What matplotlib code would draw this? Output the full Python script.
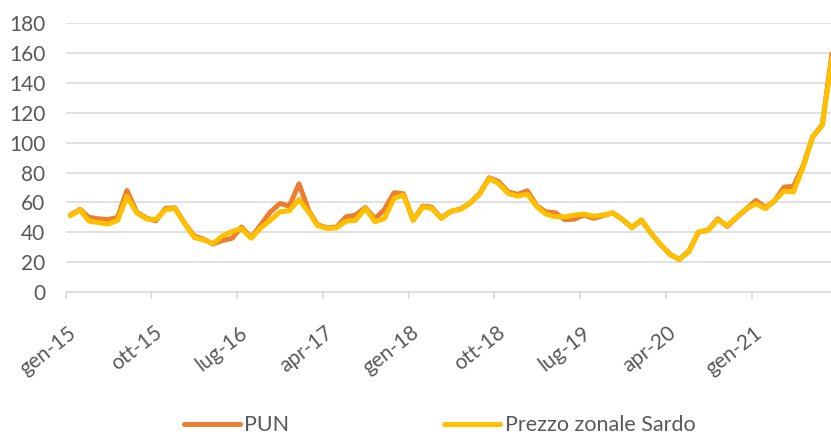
import matplotlib
matplotlib.use("Agg")
import matplotlib.pyplot as plt
import matplotlib.transforms as mtransforms
import numpy as np
import pandas as pd

plt.rcParams['font.family'] = ['Lato', 'DejaVu Sans']

# Monthly values, Jan 2015 - Sep 2021 (€/MWh)
months = pd.date_range('2015-01-01', periods=81, freq='MS') + pd.Timedelta(days=14)

pun = [51.5, 55.3, 50.0, 49.0, 48.5, 50.0, 68.0, 53.5, 49.5, 47.7, 56.0, 56.4,
       46.2, 37.5, 35.5, 32.2, 34.5, 36.0, 43.5, 36.5, 45.0, 53.5, 59.3, 57.5,
       72.5, 54.5, 45.0, 43.0, 43.5, 50.4, 51.5, 56.6, 49.0, 55.3, 66.5, 65.8,
       48.2, 57.5, 56.8, 49.5, 54.0, 55.5, 59.5, 65.8, 76.5, 74.0, 67.0, 65.4,
       67.8, 57.5, 53.7, 53.0, 48.5, 48.8, 51.5, 49.3, 51.2, 53.0, 48.6, 43.2,
       48.2, 39.3, 32.0, 25.2, 21.8, 27.5, 40.0, 41.5, 49.0, 44.0, 50.0, 55.5,
       61.3, 56.5, 61.0, 70.3, 70.7, 84.5, 103.8, 112.0, 159.5]

sardo = [51.0, 55.0, 47.5, 46.5, 45.5, 48.0, 64.0, 53.0, 49.0, 48.6, 55.0, 56.0,
         46.0, 36.5, 35.0, 32.5, 37.5, 40.5, 42.5, 36.0, 43.0, 48.0, 53.7, 54.4,
         62.0, 53.5, 44.5, 42.5, 43.0, 47.5, 48.0, 56.0, 47.0, 49.3, 62.7, 65.0,
         48.0, 57.0, 56.0, 49.3, 54.0, 55.3, 59.3, 65.4, 76.0, 72.7, 66.0, 64.2,
         65.6, 57.0, 52.2, 50.4, 50.4, 51.5, 52.2, 50.8, 51.5, 53.0, 48.6, 43.2,
         48.2, 39.2, 32.0, 25.4, 21.8, 27.0, 40.3, 41.2, 48.4, 44.6, 50.2, 55.8,
         59.1, 55.8, 61.3, 67.6, 67.0, 83.7, 103.8, 111.6, 157.0]

tick_dates = pd.date_range('2015-01-01', '2021-01-01', freq='9MS')
tick_labels = ['gen-15', 'ott-15', 'lug-16', 'apr-17', 'gen-18',
               'ott-18', 'lug-19', 'apr-20', 'gen-21']
y_ticks = list(range(0, 181, 20))

W, H = 831, 437
fig = plt.figure(figsize=(W / 100, H / 100), dpi=100)
ax = fig.add_axes([66 / W, (H - 292) / H, 1 - 66 / W, (292 - 23.3) / H])

line_kw = dict(lw=3.6, solid_joinstyle='round', solid_capstyle='round')
ax.plot(months, pun, color='#ED7D31', label='PUN', **line_kw)
ax.plot(months, sardo, color='#FFC000', label='Prezzo zonale Sardo', **line_kw)

ax.set_ylim(0, 180)
ax.set_yticks(y_ticks)
ax.set_xlim(pd.Timestamp('2015-01-01'), pd.Timestamp('2021-09-12'))
ax.set_xticks(tick_dates)
ax.set_xticklabels(tick_labels, rotation=38, ha='right', va='top',
                   rotation_mode='anchor')

ax.grid(axis='y', color='#D9D9D9', lw=1.1)
ax.grid(axis='x', visible=False)
ax.set_axisbelow(True)
for s in ['top', 'right', 'left']:
    ax.spines[s].set_visible(False)
ax.spines['bottom'].set_color('#D9D9D9')
ax.spines['bottom'].set_linewidth(1.1)

ax.tick_params(axis='y', length=0, pad=15, labelsize=15, labelcolor='#595959')
ax.tick_params(axis='x', length=5, width=1.1, color='#D9D9D9', pad=17,
               labelsize=15, labelcolor='#595959')

offset = mtransforms.ScaledTranslation(2 / 100, 0, fig.dpi_scale_trans)
for lab in ax.get_xticklabels():
    lab.set_transform(lab.get_transform() + offset)

fig.legend(loc='center', bbox_to_anchor=(0.529, 0.027), ncol=2, frameon=False,
           handlelength=2.6, handletextpad=0.2, columnspacing=7.2,
           fontsize=15.5, labelcolor='#595959', borderaxespad=0, borderpad=0)

fig.savefig('out.png', dpi=100)
